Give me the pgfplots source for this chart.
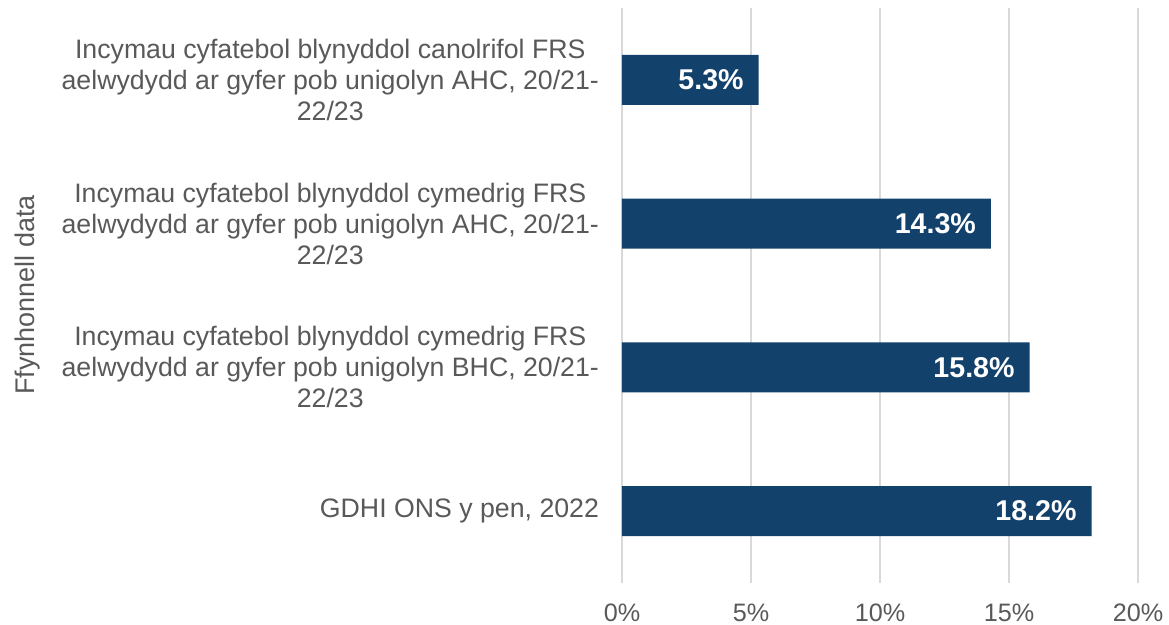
\documentclass[border=0pt]{standalone}
\usepackage{pgfplots}
\pgfplotsset{compat=1.18}
\usepackage{fontspec}
\setmainfont{Liberation Sans}
\definecolor{barc}{HTML}{12416B}
\definecolor{txt}{HTML}{595959}
\definecolor{grd}{HTML}{D9D9D9}
\begin{document}
\begin{tikzpicture}
\useasboundingbox (0,0) rectangle (584.5pt,312.5pt);
\begin{axis}[
 at={(311pt,21pt)}, anchor=south west,
 scale only axis, width=258pt, height=287.5pt,
 xbar, bar width=25pt,
 xmin=0, xmax=20, ymin=-0.5, ymax=3.5, y dir=reverse,
 xtick={0,5,10,15,20},
 xticklabel={\pgfmathprintnumber{\tick}\%},
 ytick={0,1,2,3},
 yticklabels={{Incymau cyfatebol blynyddol canolrifol FRS\\aelwydydd ar gyfer pob unigolyn AHC, 20/21-\\22/23},
  {Incymau cyfatebol blynyddol cymedrig FRS\\aelwydydd ar gyfer pob unigolyn AHC, 20/21-\\22/23},
  {Incymau cyfatebol blynyddol cymedrig FRS\\aelwydydd ar gyfer pob unigolyn BHC, 20/21-\\22/23},
  {GDHI ONS y pen, 2022}},
 yticklabel style={align=center, font=\fontsize{13.35}{15.5}\selectfont, text=txt, xshift=-8pt},
 xticklabel style={font=\fontsize{12.6}{15}\selectfont, text=txt, yshift=-7pt},
 /pgf/number format/assume math mode=true,
 axis line style={draw=none},
 major tick length=0pt,
 xmajorgrids, grid style={grd, line width=0.75pt},
 nodes near coords={\pgfmathprintnumber[fixed,fixed zerofill,precision=1]{\pgfplotspointmeta}\%},
 nodes near coords style={anchor=east, text=white, xshift=-4pt, font=\bfseries\fontsize{14.3}{16}\selectfont},
 clip=false,
]
\addplot[fill=barc, draw=none] coordinates {(5.3,0) (14.3,1) (15.8,2) (18.2,3)};
\end{axis}
\node[rotate=90, text=txt, font=\fontsize{13.5}{15}\selectfont] at (14pt,165pt) {Ffynhonnell data};
\end{tikzpicture}
\end{document}
